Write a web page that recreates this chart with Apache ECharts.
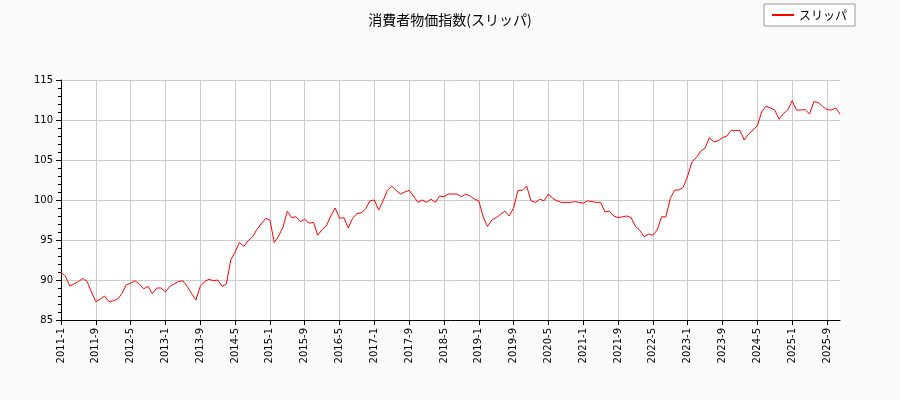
<!DOCTYPE html>
<html><head><meta charset="utf-8">
<script src="https://cdn.jsdelivr.net/npm/echarts@6/dist/echarts.min.js"></script>
<style>html,body{margin:0;padding:0;background:#fafafa;}#c{width:900px;height:400px;}</style>
</head><body><div id="c"></div>
<script>
const seriesName = 'スリッパ';
const values = [
91.0,90.5,89.25,89.5,89.8,90.2,89.8,88.5,87.3,87.6,88.0,87.3,
87.4,87.6,88.3,89.4,89.6,89.9,89.5,88.9,89.2,88.3,89.0,89.0,
88.5,89.2,89.5,89.8,89.9,89.2,88.3,87.5,89.2,89.8,90.1,89.9,
90.0,89.2,89.5,92.5,93.5,94.7,94.2,94.9,95.4,96.3,97.0,97.7,
97.5,94.7,95.5,96.6,98.6,97.8,97.9,97.3,97.6,97.1,97.2,95.6,
96.3,96.8,98.0,99.0,97.7,97.8,96.5,97.7,98.3,98.4,98.9,99.9,
100.0,98.75,99.9,101.2,101.75,101.2,100.75,101.0,101.2,100.5,99.7,100.0,
99.7,100.1,99.7,100.5,100.4,100.75,100.75,100.75,100.4,100.75,100.5,100.1,
99.9,97.9,96.7,97.5,97.8,98.2,98.6,98.0,99.0,101.2,101.2,101.75,
99.9,99.7,100.1,99.9,100.75,100.2,99.9,99.7,99.7,99.7,99.8,99.7,
99.6,99.9,99.8,99.7,99.7,98.5,98.6,98.0,97.8,97.9,98.0,97.8,
96.7,96.2,95.4,95.75,95.6,96.25,97.9,97.9,100.2,101.25,101.25,101.6,
103.0,104.8,105.3,106.1,106.5,107.8,107.25,107.4,107.8,108.0,108.7,108.7,
108.7,107.5,108.25,108.75,109.3,111.0,111.75,111.5,111.25,110.1,110.8,111.25,
112.4,111.25,111.25,111.3,110.75,112.3,112.2,111.7,111.3,111.25,111.5,110.75
];
const categories = [];
for (let y = 2011; y <= 2025; y++) for (let m = 1; m <= 12; m++) categories.push(y + '-' + m);
const chart = echarts.init(document.getElementById('c'));
chart.setOption({
  backgroundColor: '#fafafa',
  animation: false,
  title: { text: '消費者物価指数(スリッパ)', left: 'center', top: 8,
    textStyle: { fontSize: 14, fontWeight: 'normal', color: '#000', fontFamily: 'Noto Sans CJK JP' } },
  legend: { right: 45, top: 4, itemWidth: 22, itemHeight: 2, borderColor: '#999', borderWidth: 1,
    borderRadius: 0, padding: [5, 8], backgroundColor: '#fff',
    textStyle: { fontSize: 12, color: '#000', fontFamily: 'Noto Sans CJK JP' },
    data: [{ name: seriesName, icon: 'rect' }] },
  grid: { left: 61, right: 60, top: 80, bottom: 80, show: true, backgroundColor: '#fff', borderWidth: 0 },
  xAxis: { type: 'category', data: categories, boundaryGap: false,
    axisLine: { lineStyle: { color: '#000' } },
    axisTick: { interval: 7, lineStyle: { color: '#000' } },
    axisLabel: { interval: 7, rotate: 90, fontSize: 10, color: '#000', fontFamily: 'DejaVu Sans' },
    splitLine: { show: true, interval: 7, lineStyle: { color: '#ccc' } } },
  yAxis: { type: 'value', min: 85, max: 115, interval: 5,
    axisLine: { show: true, lineStyle: { color: '#000' } },
    axisTick: { show: true, lineStyle: { color: '#000' } },
    minorTick: { show: true, splitNumber: 5, lineStyle: { color: '#000' } },
    axisLabel: { fontSize: 10, color: '#000', fontFamily: 'DejaVu Sans' },
    splitLine: { lineStyle: { color: '#ccc' } } },
  series: [{ name: seriesName, type: 'line', data: values, showSymbol: false,
    lineStyle: { color: '#ff0000', width: 1 }, itemStyle: { color: '#ff0000' } }]
});
</script></body></html>
